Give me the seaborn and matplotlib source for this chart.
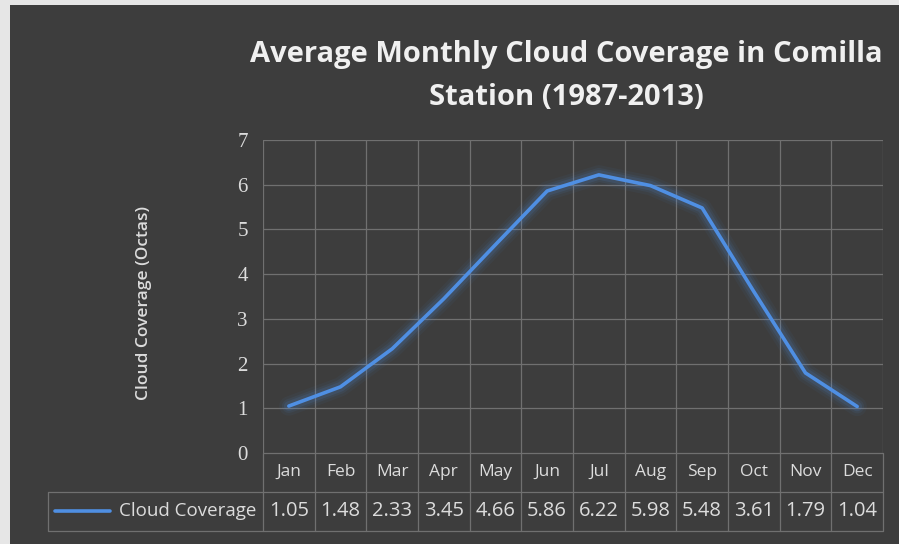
import numpy as np
import pandas as pd
import matplotlib
matplotlib.use("Agg")
import matplotlib.pyplot as plt
from matplotlib.patches import Rectangle
import seaborn as sns

# --- data ---
months = ['Jan', 'Feb', 'Mar', 'Apr', 'May', 'Jun', 'Jul', 'Aug', 'Sep', 'Oct', 'Nov', 'Dec']
cloud_cover = [1.05, 1.48, 2.33, 3.45, 4.66, 5.86, 6.22, 5.98, 5.48, 3.61, 1.79, 1.04]
value_labels = ['1.05', '1.48', '2.33', '3.45', '4.66', '5.86', '6.22', '5.98', '5.48', '3.61', '1.79', '1.04']
series_name = 'Cloud Coverage'
y_ticks = [0, 1, 2, 3, 4, 5, 6, 7]

df = pd.DataFrame({'month': months, 'cover': cloud_cover})
df['pos'] = np.arange(len(months))

bg = '#3d3d3d'
grid_c = '#707070'
txt_c = '#dcdcdc'
line_c = '#4f8fe3'

sns.set_style('dark')
fig = plt.figure(figsize=(8.99, 5.44), dpi=100)
fig.patch.set_facecolor('#e6e6e6')
fig.patches.append(Rectangle((10 / 899, 0), 1, 1 - 5 / 544, transform=fig.transFigure,
                             facecolor=bg, edgecolor='none', zorder=-10))

ax = fig.add_axes([263 / 899, (544 - 453) / 544, 620 / 899, 313 / 544])
ax.set_facecolor(bg)

# glow underneath the line
for lw, a in [(14, 0.05), (10, 0.08), (7, 0.12)]:
    sns.lineplot(data=df, x='pos', y='cover', ax=ax, color=line_c, lw=lw, alpha=a,
                 solid_capstyle='round', legend=False)
sns.lineplot(data=df, x='pos', y='cover', ax=ax, color=line_c, lw=2.6, legend=False)

ax.set_xlim(-0.5, len(months) - 0.5)
ax.set_ylim(0, 7)
ax.set_yticks(y_ticks)
ax.set_yticklabels([str(t) for t in y_ticks], family='Liberation Serif', fontsize=15, color=txt_c)
ax.tick_params(axis='y', length=0, pad=11)
ax.set_xticks([])
ax.set_xlabel('')
ax.set_ylabel('Cloud Coverage (Octas)', fontsize=12.5, color=txt_c, fontweight='semibold',
              family='Open Sans')
ax.yaxis.set_label_coords(-111 / 620, 0.48)

# gridlines
for y in y_ticks[1:]:
    ax.axhline(y, color=grid_c, lw=0.9, zorder=0)
for x in np.arange(len(months) + 1) - 0.5:
    ax.axvline(x, color=grid_c, lw=0.9, zorder=0)
for s in ax.spines.values():
    s.set_visible(False)

# data table below the plot
tr = ax.get_xaxis_transform()
row1 = -(472 - 453) / 313
row2 = -(511 - 453) / 313
line2 = -(531 - 453) / 313
for i, (m, v) in enumerate(zip(months, value_labels)):
    ax.text(i, row1, m, transform=tr, ha='center', va='center', color=txt_c, fontsize=12.5,
            family='Open Sans', clip_on=False)
    ax.text(i, row2, v, transform=tr, ha='center', va='center', color=txt_c, fontsize=14.5,
            family='Open Sans', clip_on=False)
for x in np.arange(len(months) + 1) - 0.5:
    ax.plot([x, x], [0, line2], transform=tr, color=grid_c, lw=0.9, clip_on=False)
ax.plot([-0.5, len(months) - 0.5], [0, 0], transform=tr, color=grid_c, lw=0.9, clip_on=False)
left = 48 / 899
fig.add_artist(plt.Line2D([left, 883 / 899], [(544 - 492) / 544] * 2, color=grid_c, lw=0.9))
fig.add_artist(plt.Line2D([left, 883 / 899], [(544 - 531) / 544] * 2, color=grid_c, lw=0.9))
fig.add_artist(plt.Line2D([left, left], [(544 - 531) / 544, (544 - 492) / 544], color=grid_c, lw=0.9))
# legend key inside the table
fig.add_artist(plt.Line2D([55 / 899, 110 / 899], [(544 - 511) / 544] * 2, color=line_c, lw=2.6))
fig.text(256 / 899, (544 - 511) / 544, series_name, ha='right', va='center', color=txt_c,
         fontsize=13.5, family='Open Sans')

fig.text(566 / 899, (544 - 76) / 544, 'Average Monthly Cloud Coverage in Comilla\nStation (1987-2013)',
         ha='center', va='center', color='#f0f0f0', fontsize=21, fontweight='bold',
         family='Open Sans', linespacing=1.6)

fig.savefig('out.png', dpi=100, facecolor=fig.get_facecolor())
